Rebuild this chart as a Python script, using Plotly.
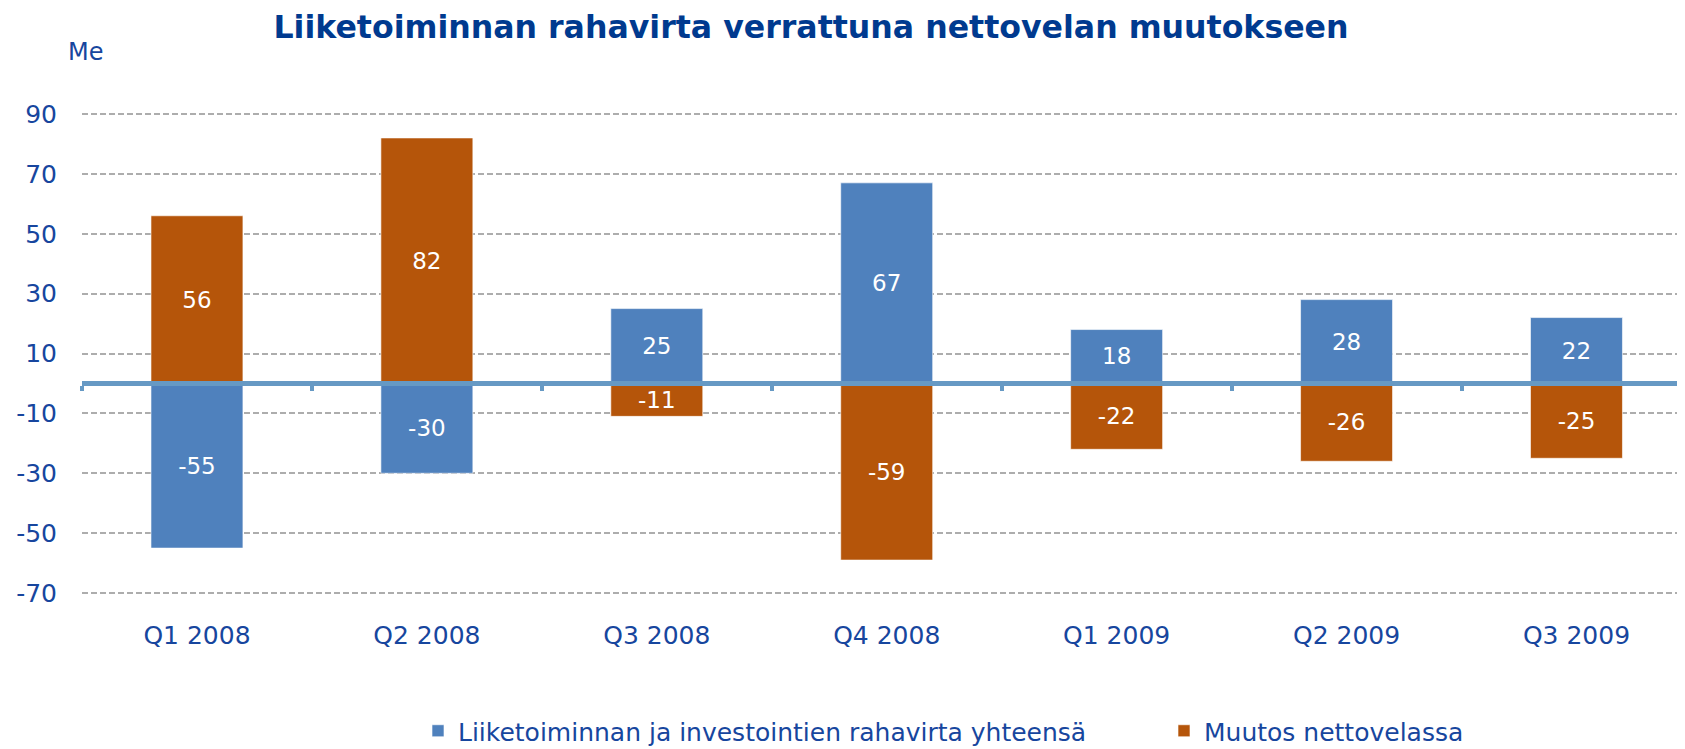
import plotly.graph_objects as go

categories = ["Q1 2008", "Q2 2008", "Q3 2008", "Q4 2008", "Q1 2009", "Q2 2009", "Q3 2009"]
kassavirta = [-55, -30, 25, 67, 18, 28, 22]
nettovelka = [56, 82, -11, -59, -22, -26, -25]
series_names = ["Liiketoiminnan ja investointien rahavirta yhteensä", "Muutos nettovelassa"]
y_ticks = [-70, -50, -30, -10, 10, 30, 50, 70, 90]

BLUE = "#4F81BD"
ORANGE = "#B5550A"
ZERO = "#6699C4"
TXT = "#17469E"
FONT = "DejaVu Sans"

# the page body has an 8px margin; figure is sized to fill the rest of the window
W, H = 1677, 741
ML, MT, MB = 74, 103, 153
PW, PH = W - ML, H - MT - MB

x = list(range(len(categories)))
ymin, ymax = -71, 91
xr = [-0.5, len(categories) - 0.5 - 0.028]

fig = go.Figure()
for vals, name, col in [(kassavirta, series_names[0], BLUE), (nettovelka, series_names[1], ORANGE)]:
    fig.add_trace(go.Bar(
        x=x, y=vals, name=name, width=0.4,
        marker=dict(color=col, line=dict(color="rgba(255,255,255,0.6)", width=1)),
        text=[str(v) for v in vals], texttemplate="%{text}", textposition="inside",
        insidetextanchor="middle", textangle=0, constraintext="none",
        textfont=dict(family=FONT, size=23, color="white"),
    ))

fig.update_layout(
    width=W, height=H,
    barmode="relative",
    paper_bgcolor="white", plot_bgcolor="white",
    margin=dict(l=ML, r=0, t=MT, b=MB, autoexpand=False),
    uniformtext=dict(minsize=22, mode="show"),
    title=dict(text="<b>Liiketoiminnan rahavirta verrattuna nettovelan muutokseen</b>",
               x=803 / W, xanchor="center", xref="container", y=1 - 19 / H, yanchor="middle",
               yref="container",
               font=dict(family=FONT, size=31.6, color="#003A8F")),
    showlegend=True,
    legend=dict(orientation="h", x=410 / W, xanchor="left", y=1 - 723 / H, yanchor="middle",
                yref="container", xref="container",
                font=dict(family=FONT, size=25, color=TXT), entrywidth=701, entrywidthmode="pixels",
                traceorder="normal"),
    xaxis=dict(range=xr, tickvals=x, ticktext=categories, showgrid=False, zeroline=False,
               showline=False, ticks="outside", ticklen=17, tickcolor="rgba(0,0,0,0)",
               tickfont=dict(family=FONT, size=25, color=TXT)),
    xaxis2=dict(overlaying="x", anchor="free", position=(0 - ymin) / (ymax - ymin), side="bottom",
                range=xr, tickvals=[i - 0.5 for i in range(len(categories) + 1)],
                showticklabels=False, showgrid=False, zeroline=False,
                showline=True, linecolor=ZERO, linewidth=5,
                ticks="outside", ticklen=5, tickwidth=4, tickcolor=ZERO),
    yaxis=dict(range=[ymin, ymax], tickvals=y_ticks, ticktext=[str(v) for v in y_ticks],
               showgrid=True, gridcolor="#ADADAD",
               gridwidth=2, griddash="6px,3px", zeroline=False, showline=False,
               ticks="outside", ticklen=19, tickcolor="rgba(0,0,0,0)",
               tickfont=dict(family=FONT, size=25, color=TXT)),
    annotations=[dict(text="Me", xref="paper", yref="paper", x=(77 - ML) / PW, y=1 + (MT - 44) / PH,
                      xanchor="center", yanchor="middle", showarrow=False,
                      font=dict(family=FONT, size=24, color=TXT))],
)
fig.add_trace(go.Scatter(x=[None], y=[None], xaxis="x2", showlegend=False, hoverinfo="skip"))

fig.write_html("out.html")
